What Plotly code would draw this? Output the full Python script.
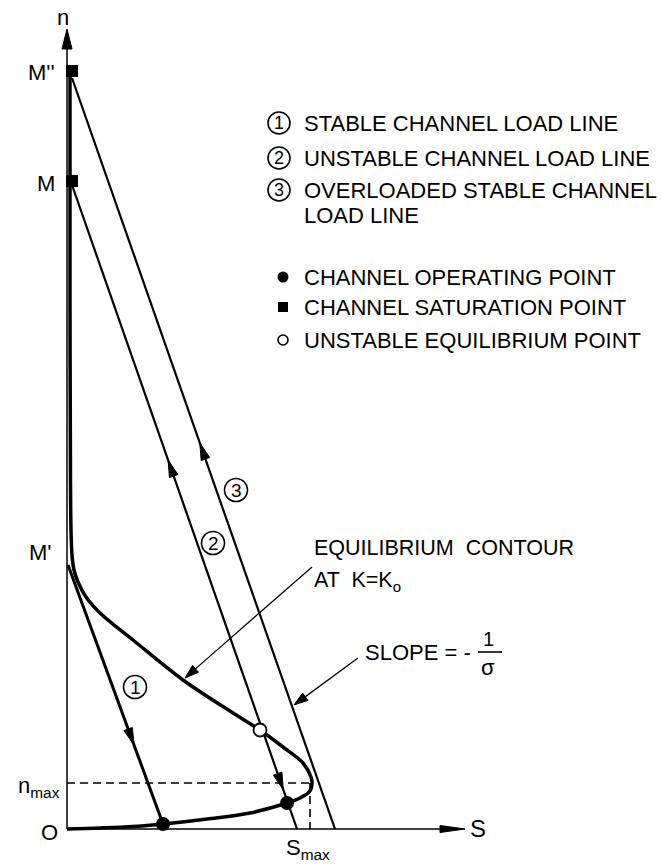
import plotly.graph_objects as go
import numpy as np

# ---------------- data (S = channel load, n = channel occupancy) ----------------
# Equilibrium contour at K = K0
contour_S = [0.03, 0.03, 0.035, 0.04, 0.05, 0.07, 0.11, 0.19, 0.33, 0.66, 1.16, 1.66, 1.93,
             2.16, 2.36, 2.44, 2.45, 2.43, 2.33, 2.20, 1.83, 1.40, 1.06, 0.96, 0.66, 0.33, 0.0]
contour_n = [7.54, 5.29, 3.49, 2.99, 2.74, 2.59, 2.47, 2.32, 2.16, 1.89, 1.49, 1.16, 0.99,
             0.82, 0.66, 0.52, 0.46, 0.38, 0.31, 0.26, 0.16, 0.10, 0.06, 0.05, 0.025, 0.01, 0.0]

# Load lines (start at M', M, M'' ; end on the S axis / operating point)
line1_S = [0.01, 0.96]
line1_n = [2.64, 0.05]
line2_S = [0.05, 2.30]
line2_n = [6.44, 0.00]
line3_S = [0.05, 2.68]
line3_n = [7.51, 0.00]

# Special points
operating_S = [0.96, 2.20]
operating_n = [0.05, 0.26]
saturation_S = [0.05, 0.05]
saturation_n = [7.58, 6.48]
unstable_S = [1.93]
unstable_n = [0.99]

n_max = 0.46
S_max = 2.43

# Arrows along the load lines: (line, fraction along line of the tip, direction +1 = toward end)
line_arrows = [("1", 0.695, 1), ("2", 0.427, -1), ("2", 0.939, 1), ("3", 0.486, -1)]

legend_lines = ["STABLE CHANNEL LOAD LINE", "UNSTABLE CHANNEL LOAD LINE",
                "OVERLOADED STABLE CHANNEL", "LOAD LINE"]
legend_points = ["CHANNEL OPERATING POINT", "CHANNEL SATURATION POINT",
                 "UNSTABLE EQUILIBRIUM POINT"]

FONT = "Liberation Sans"
BLACK = "black"

lines = {"1": (line1_S, line1_n), "2": (line2_S, line2_n), "3": (line3_S, line3_n)}

fig = go.Figure()


def add_line(xs, ys, width, dash="solid", shape="linear"):
    fig.add_trace(go.Scatter(x=xs, y=ys, mode="lines",
                             line=dict(color=BLACK, width=width, dash=dash, shape=shape),
                             hoverinfo="skip", showlegend=False))


def add_head(tip, direction, length, half):
    d = np.array(direction, dtype=float)
    d = d / np.linalg.norm(d)
    p = np.array([-d[1], d[0]])
    tip = np.array(tip, dtype=float)
    base = tip - d * length
    pts = [tip, base + p * half, base - p * half, tip]
    fig.add_trace(go.Scatter(x=[q[0] for q in pts], y=[q[1] for q in pts], mode="lines",
                             fill="toself", fillcolor=BLACK, line=dict(color=BLACK, width=1),
                             hoverinfo="skip", showlegend=False))


def add_arrow(tail, tip, width, length, half):
    tail = np.array(tail, float)
    tip = np.array(tip, float)
    d = (tip - tail) / np.linalg.norm(tip - tail)
    add_line([tail[0], tip[0] - d[0] * length * 0.8], [tail[1], tip[1] - d[1] * length * 0.8], width)
    add_head(tip, d, length, half)


# axes
add_arrow((0, 0), (0, 8.00), 1.5, 0.20, 0.05)
add_arrow((0, 0), (3.98, 0), 1.5, 0.25, 0.035)

# dashed n_max / S_max guides
add_line([0, S_max + 0.02], [n_max, n_max], 1.6, dash="8px,5px")
add_line([S_max, S_max], [n_max, 0], 1.6, dash="8px,5px")

# contour
add_line(contour_S, contour_n, 3.5, shape="spline")

# load lines
add_line(line1_S, line1_n, 3)
add_line(line2_S, line2_n, 2.2)
add_line(line3_S, line3_n, 2.2)

for key, t, sgn in line_arrows:
    xs, ys = lines[key]
    p0 = np.array([xs[0], ys[0]])
    p1 = np.array([xs[1], ys[1]])
    tip = p0 + (p1 - p0) * t
    add_head(tip, (p1 - p0) * sgn, 0.17, 0.045)

# annotation pointer arrows
add_arrow((2.45, 2.62), (1.18, 1.51), 1.3, 0.14, 0.045)
add_arrow((2.91, 1.71), (2.27, 1.24), 1.3, 0.14, 0.045)

# points
fig.add_trace(go.Scatter(x=operating_S, y=operating_n, mode="markers",
                         marker=dict(symbol="circle", size=14, color=BLACK),
                         hoverinfo="skip", showlegend=False))
fig.add_trace(go.Scatter(x=saturation_S, y=saturation_n, mode="markers",
                         marker=dict(symbol="square", size=12, color=BLACK),
                         hoverinfo="skip", showlegend=False))
fig.add_trace(go.Scatter(x=unstable_S, y=unstable_n, mode="markers",
                         marker=dict(symbol="circle", size=13, color="white",
                                     line=dict(color=BLACK, width=1.8)),
                         hoverinfo="skip", showlegend=False))

# legend (drawn inside the figure)
leg_x = 2.35
leg_rows = [7.06, 6.71, 6.39, 6.14]
for i, (txt, yy) in enumerate(zip(legend_lines, leg_rows)):
    fig.add_annotation(x=leg_x, y=yy, text=txt, showarrow=False, xanchor="left", yanchor="middle",
                       font=dict(family=FONT, size=22, color=BLACK))
for i, yy in enumerate(leg_rows[:3]):
    fig.add_shape(type="circle", xref="x", yref="y", x0=2.12 - 0.11, x1=2.12 + 0.11,
                  y0=yy - 0.11, y1=yy + 0.11, line=dict(color=BLACK, width=1.6))
    fig.add_annotation(x=2.12, y=yy, text=str(i + 1), showarrow=False,
                       font=dict(family=FONT, size=18, color=BLACK))

pt_rows = [5.52, 5.22, 4.89]
for txt, yy in zip(legend_points, pt_rows):
    fig.add_annotation(x=leg_x, y=yy, text=txt, showarrow=False, xanchor="left", yanchor="middle",
                       font=dict(family=FONT, size=22, color=BLACK))
fig.add_trace(go.Scatter(x=[2.16], y=[pt_rows[0]], mode="markers",
                         marker=dict(symbol="circle", size=11, color=BLACK),
                         hoverinfo="skip", showlegend=False))
fig.add_trace(go.Scatter(x=[2.16], y=[pt_rows[1]], mode="markers",
                         marker=dict(symbol="square", size=10, color=BLACK),
                         hoverinfo="skip", showlegend=False))
fig.add_trace(go.Scatter(x=[2.16], y=[pt_rows[2]], mode="markers",
                         marker=dict(symbol="circle", size=10, color="white",
                                     line=dict(color=BLACK, width=1.6)),
                         hoverinfo="skip", showlegend=False))

# circled line numbers on the plot
for num, (cx, cy) in zip(["1", "2", "3"], [(0.68, 1.42), (1.46, 2.86), (1.69, 3.39)]):
    fig.add_shape(type="circle", xref="x", yref="y", x0=cx - 0.115, x1=cx + 0.115,
                  y0=cy - 0.115, y1=cy + 0.115, line=dict(color=BLACK, width=1.6),
                  fillcolor="white")
    fig.add_annotation(x=cx, y=cy, text=num, showarrow=False,
                       font=dict(family=FONT, size=19, color=BLACK))


# text labels
def label(x, y, text, size=22, xanchor="center"):
    fig.add_annotation(x=x, y=y, text=text, showarrow=False, xanchor=xanchor, yanchor="middle",
                       font=dict(family=FONT, size=size, color=BLACK))


label(-0.04, 8.12, "n")
label(-0.10, 7.57, "M''", xanchor="right")
label(-0.10, 6.46, "M", xanchor="right")
label(-0.13, 2.77, "M'", xanchor="right")
label(-0.05, 0.42, "n<sub>max</sub>", xanchor="right")
label(-0.07, -0.03, "O", xanchor="right")
label(S_max - 0.02, -0.20, "S<sub>max</sub>")
label(4.11, 0.01, "S", size=24)

label(2.45, 2.81, "EQUILIBRIUM  CONTOUR", size=21.5, xanchor="left")
label(2.45, 2.48, "AT  K=K<sub>o</sub>", size=21.5, xanchor="left")
label(2.96, 1.77, "SLOPE = -", xanchor="left")
label(4.21, 1.90, "1", size=20)
label(4.21, 1.62, "σ", size=22)
fig.add_shape(type="line", xref="x", yref="y", x0=4.11, x1=4.35, y0=1.77, y1=1.77,
              line=dict(color=BLACK, width=1.6))

fig.update_layout(
    width=663, height=864,
    margin=dict(l=0, r=0, t=0, b=0),
    paper_bgcolor="white", plot_bgcolor="white",
    xaxis=dict(range=[-0.67, 5.96], visible=False, fixedrange=True),
    yaxis=dict(range=[-0.35, 8.29], visible=False, fixedrange=True),
    showlegend=False,
)

fig.write_html("out.html",
               config={"displayModeBar": False, "staticPlot": True},
               post_script="document.body.style.margin='0';document.body.style.padding='0';"
                           "document.body.style.overflow='hidden';")
